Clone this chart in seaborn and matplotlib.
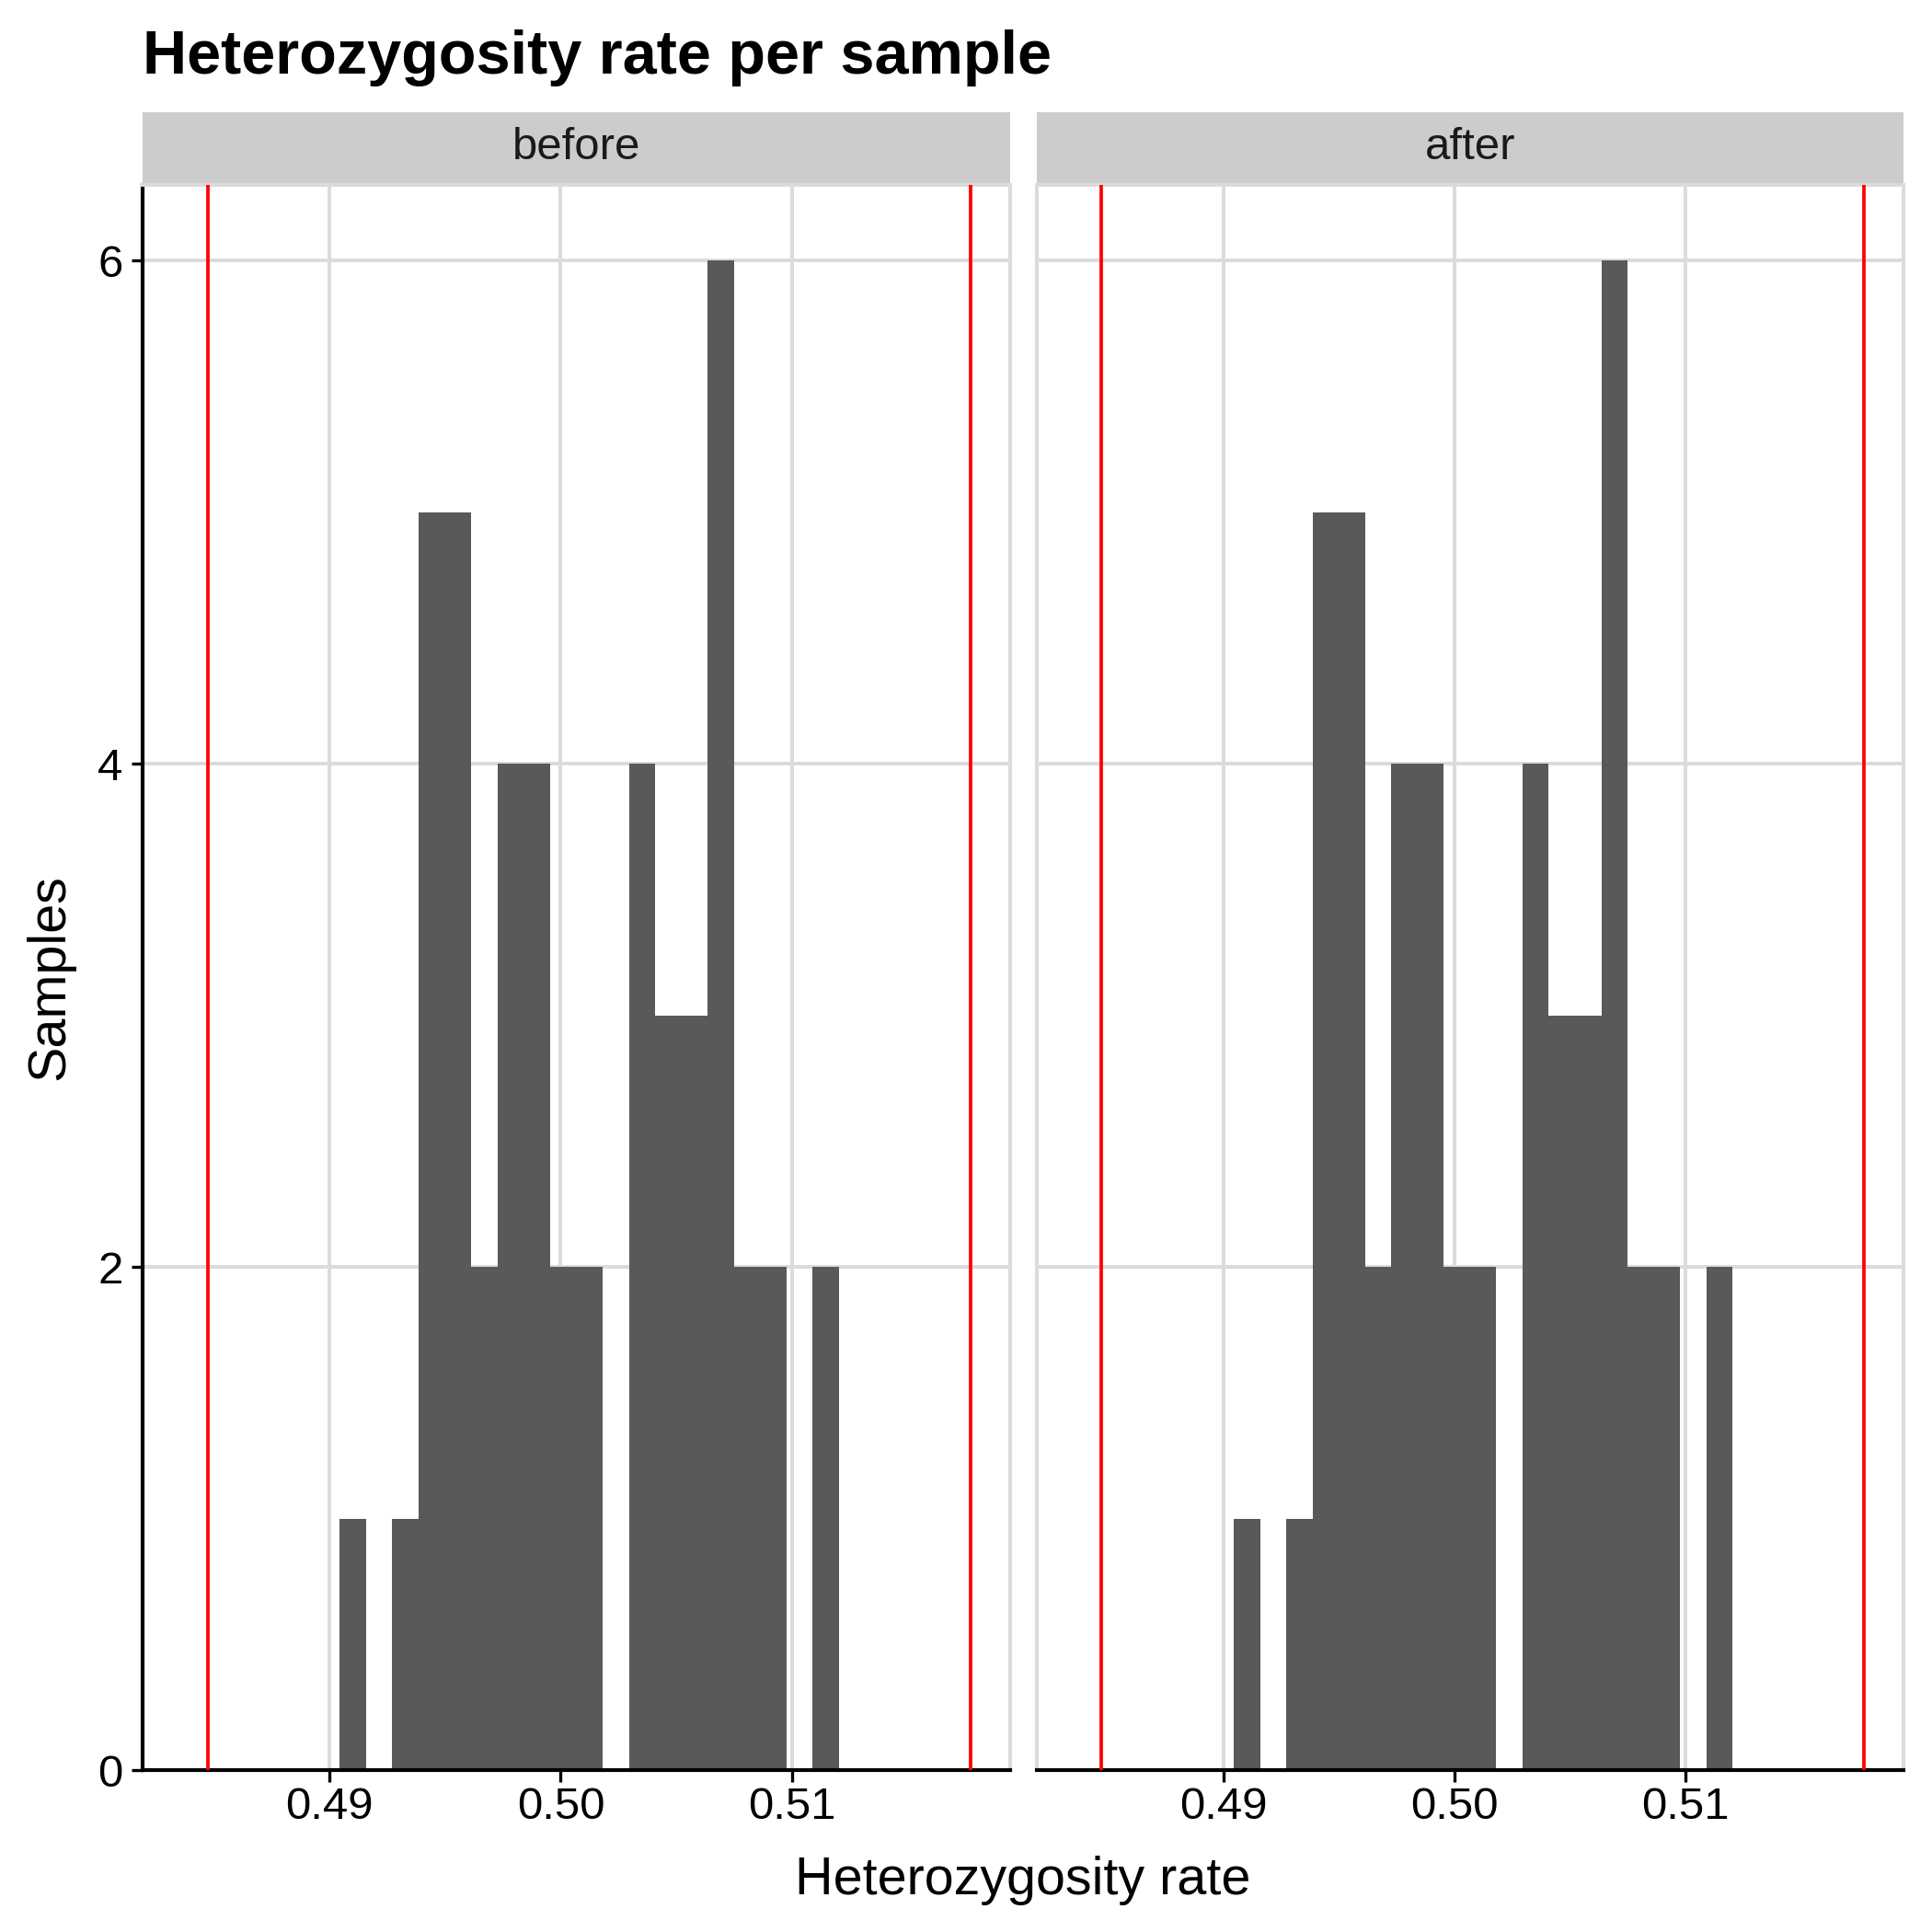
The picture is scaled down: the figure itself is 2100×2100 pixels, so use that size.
import numpy as np
import pandas as pd
import matplotlib
matplotlib.use("Agg")
import matplotlib.pyplot as plt
import seaborn as sns

# histogram bins (30 bins in ggplot, only the occupied stretch kept)
bin_edges = [0.49045, 0.49159, 0.49272, 0.49386, 0.49499, 0.49613, 0.49727,
             0.49840, 0.49954, 0.50067, 0.50181, 0.50295, 0.50408, 0.50522,
             0.50635, 0.50749, 0.50863, 0.50976, 0.51090, 0.51203]
counts_before = [1, 0, 1, 5, 5, 2, 4, 4, 2, 2, 0, 4, 3, 3, 6, 2, 2, 0, 2]
counts_after = [1, 0, 1, 5, 5, 2, 4, 4, 2, 2, 0, 4, 3, 3, 6, 2, 2, 0, 2]
panels = ["before", "after"]
thresholds = [0.48474, 0.51772]
x_ticks = [0.49, 0.50, 0.51]
x_labels = ["0.49", "0.50", "0.51"]
y_ticks = [0, 2, 4, 6]

centers = [(a + b) / 2 for a, b in zip(bin_edges[:-1], bin_edges[1:])]
df = pd.concat([
    pd.DataFrame({"het": centers, "n": counts_before, "panel": "before"}),
    pd.DataFrame({"het": centers, "n": counts_after, "panel": "after"}),
])

sns.set_style("white")
plt.rcParams["font.family"] = ["Liberation Sans", "DejaVu Sans"]
plt.rcParams["text.color"] = "black"
plt.rcParams["axes.labelcolor"] = "black"

W = 2099
fig = plt.figure(figsize=(7, 7), dpi=300)

grid_col = "#DBDBDB"
panel_bottom = 1 - 1923.5 / W
panel_h = (1923.5 - 201) / W
panel_w = 942 / W
lefts = [155 / W, 1126 / W]
strip_bottom = 1 - 199 / W
strip_h = 77 / W

for i, name in enumerate(panels):
    ax = fig.add_axes([lefts[i], panel_bottom, panel_w, panel_h])
    sub = df[df["panel"] == name]
    sns.histplot(data=sub, x="het", weights="n", bins=bin_edges, ax=ax,
                 color="#595959", alpha=1, linewidth=0, edgecolor="none")
    for t in thresholds:
        ax.axvline(t, color="#FF0000", lw=0.9, zorder=5)
    ax.set_xlim(0.48192, 0.51942)
    ax.set_ylim(0, 6.3)
    ax.set_xticks(x_ticks)
    ax.set_xticklabels(x_labels)
    ax.set_yticks(y_ticks)
    ax.set_axisbelow(True)
    ax.grid(True, color=grid_col, lw=0.95)
    ax.set_xlabel("")
    ax.set_ylabel("")
    for s in ["top", "right", "left"]:
        ax.spines[s].set_color(grid_col)
        ax.spines[s].set_linewidth(0.95)
    ax.spines["bottom"].set_color("black")
    ax.spines["bottom"].set_linewidth(1.0)
    ax.tick_params(axis="x", length=3, width=0.8, color="black", pad=1.2,
                   labelsize=11.8, labelcolor="black", bottom=True)
    if i == 0:
        ax.spines["left"].set_color("black")
        ax.spines["left"].set_linewidth(1.0)
        ax.tick_params(axis="y", length=3, width=0.8, color="black", pad=2.2,
                       labelsize=11.8, labelcolor="black", left=True)
    else:
        ax.tick_params(axis="y", left=False, labelleft=False)

    # facet strip
    sax = fig.add_axes([lefts[i], strip_bottom, panel_w, strip_h])
    sax.set_facecolor("#CCCCCC")
    sax.set_xticks([])
    sax.set_yticks([])
    for s in sax.spines.values():
        s.set_visible(False)
    sax.text(0.5, 0.5, name, ha="center", va="center", fontsize=11.8,
             color="#1A1A1A", transform=sax.transAxes)

fig.text(155 / W, 1 - 80 / W, "Heterozygosity rate per sample", fontsize=16,
         fontweight="bold", ha="left", va="baseline", color="black")
fig.text(1111.5 / W, 1 - 2058 / W, "Heterozygosity rate", fontsize=13.8,
         ha="center", va="baseline", color="black")
fig.text(54 / W, 1 - 1062 / W, "Samples", fontsize=13.8, rotation=90,
         ha="center", va="center", color="black")

plt.savefig("out.png", dpi=300)
